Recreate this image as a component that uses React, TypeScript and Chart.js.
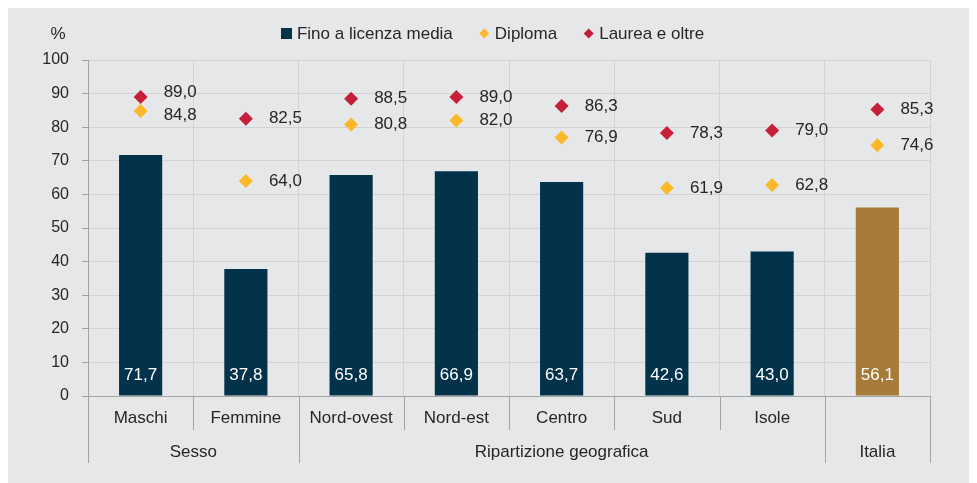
import React, { useEffect, useRef } from 'react';
import { Chart, registerables } from 'chart.js';

Chart.register(...registerables);

const categories = ['Maschi', 'Femmine', 'Nord-ovest', 'Nord-est', 'Centro', 'Sud', 'Isole', 'Italia'];
const groupLabels = ['Sesso', 'Ripartizione geografica', 'Italia'];
const groupSpans = [2, 5, 1];
const seriesNames = ['Fino a licenza media', 'Diploma', 'Laurea e oltre'];
const finoLicenzaMedia = [71.7, 37.8, 65.8, 66.9, 63.7, 42.6, 43.0, 56.1];
const diploma = [84.8, 64.0, 80.8, 82.0, 76.9, 61.9, 62.8, 74.6];
const laurea = [89.0, 82.5, 88.5, 89.0, 86.3, 78.3, 79.0, 85.3];
const yMin = 0;
const yMax = 100;
const yStep = 10;
const yUnit = '%';

const NAVY = '#02334b';
const GOLD = '#a67b37';
const YELLOW = '#fbb829';
const RED = '#c51f3a';
const TEXT = '#262626';
const AXIS = '#a3a3a3';
const GRID = '#d2d3d4';
const BG = '#e6e7e8';
const FONT = '"Liberation Sans", Arial, sans-serif';

const fmt = (v: number) => v.toFixed(1).replace('.', ',');

const customPlugin = {
  id: 'customDecor',
  afterDatasetsDraw(chart: any) {
    const ctx = chart.ctx;
    const y = chart.scales.y;
    ctx.save();
    ctx.font = `17px ${FONT}`;
    ctx.textBaseline = 'middle';
    // bar value labels
    ctx.fillStyle = '#ffffff';
    ctx.textAlign = 'center';
    const barMeta = chart.getDatasetMeta(0);
    barMeta.data.forEach((el: any, i: number) => {
      ctx.fillText(fmt(finoLicenzaMedia[i]), el.x, y.getPixelForValue(0) - 21);
    });
    // point labels
    ctx.fillStyle = TEXT;
    ctx.textAlign = 'left';
    const dMeta = chart.getDatasetMeta(1);
    const lMeta = chart.getDatasetMeta(2);
    categories.forEach((_, i) => {
      const pd = dMeta.data[i];
      const pl = lMeta.data[i];
      let yd = pd.y;
      let yl = pl.y;
      const gap = yd - yl;
      const minGap = 23;
      if (gap < minGap) {
        const s = (minGap - gap) / 2;
        yd += s;
        yl -= s;
      }
      ctx.fillText(fmt(diploma[i]), pd.x + 23, yd);
      ctx.fillText(fmt(laurea[i]), pl.x + 23, yl);
    });
    ctx.restore();
  },
  afterDraw(chart: any) {
    const ctx = chart.ctx;
    const x = chart.scales.x;
    const area = chart.chartArea;
    const n = categories.length;
    ctx.save();
    // boundaries
    const bounds: number[] = [];
    for (let k = 0; k <= n; k++) {
      if (k === 0) bounds.push(area.left);
      else if (k === n) bounds.push(area.right);
      else bounds.push((x.getPixelForValue(k - 1) + x.getPixelForValue(k)) / 2);
    }
    const groupBounds = new Set<number>([0]);
    const singleGroupCats = new Set<number>();
    let acc = 0;
    groupSpans.forEach((s, gi) => {
      if (s === 1 && categories[acc] === groupLabels[gi]) singleGroupCats.add(acc);
      acc += s;
      groupBounds.add(acc);
    });
    ctx.strokeStyle = AXIS;
    ctx.lineWidth = 1;
    const base = area.bottom;
    bounds.forEach((bx, k) => {
      const len = groupBounds.has(k) ? 67 : 34;
      const px = Math.round(bx) + 0.5;
      ctx.beginPath();
      ctx.moveTo(px, base);
      ctx.lineTo(px, base + len);
      ctx.stroke();
    });
    // category labels
    ctx.font = `17px ${FONT}`;
    ctx.fillStyle = TEXT;
    ctx.textAlign = 'center';
    ctx.textBaseline = 'middle';
    categories.forEach((c, i) => {
      if (singleGroupCats.has(i)) return;
      ctx.fillText(c, x.getPixelForValue(i), base + 22);
    });
    // group labels
    let start = 0;
    groupLabels.forEach((g, gi) => {
      const end = start + groupSpans[gi];
      const cx = (bounds[start] + bounds[end]) / 2;
      ctx.fillText(g, cx, base + 56);
      start = end;
    });
    // unit
    ctx.fillText(yUnit, 50, 26);
    // legend
    const markers = [
      { type: 'rect', color: NAVY },
      { type: 'diamond', color: YELLOW },
      { type: 'diamond', color: RED },
    ];
    const box = 11;
    const gapText = 5;
    const spacing = 26;
    const widths = seriesNames.map((s) => ctx.measureText(s).width);
    const total = widths.reduce((a, w) => a + box + gapText + w, 0) + spacing * (seriesNames.length - 1);
    let lx = (chart.width - total) / 2;
    const ly = 25;
    ctx.textAlign = 'left';
    seriesNames.forEach((s, i) => {
      const m = markers[i];
      ctx.fillStyle = m.color;
      if (m.type === 'rect') {
        ctx.fillRect(Math.round(lx), ly - 5, box, box);
      } else {
        const cx = lx + box / 2;
        const r = 5;
        ctx.beginPath();
        ctx.moveTo(cx - r, ly + 0.5);
        ctx.lineTo(cx, ly + 0.5 - r);
        ctx.lineTo(cx + r, ly + 0.5);
        ctx.lineTo(cx, ly + 0.5 + r);
        ctx.closePath();
        ctx.fill();
      }
      ctx.fillStyle = TEXT;
      ctx.fillText(s, lx + box + gapText, ly + 1);
      lx += box + gapText + widths[i] + spacing;
    });
    ctx.restore();
  },
};

export default function App() {
  const canvasRef = useRef<HTMLCanvasElement | null>(null);

  useEffect(() => {
    if (!canvasRef.current) return;
    const chart = new Chart(canvasRef.current, {
      type: 'bar',
      data: {
        labels: categories,
        datasets: [
          {
            type: 'bar',
            label: seriesNames[0],
            data: finoLicenzaMedia,
            backgroundColor: categories.map((c) => (c === 'Italia' ? GOLD : NAVY)),
            barPercentage: 0.41,
            categoryPercentage: 1,
            order: 2,
          } as any,
          {
            type: 'line',
            label: seriesNames[1],
            data: diploma,
            showLine: false,
            pointStyle: 'rectRot',
            pointRadius: 7,
            pointBorderWidth: 0,
            pointBackgroundColor: YELLOW,
            pointBorderColor: YELLOW,
            order: 1,
          } as any,
          {
            type: 'line',
            label: seriesNames[2],
            data: laurea,
            showLine: false,
            pointStyle: 'rectRot',
            pointRadius: 7,
            pointBorderWidth: 0,
            pointBackgroundColor: RED,
            pointBorderColor: RED,
            order: 1,
          } as any,
        ],
      },
      options: {
        animation: false,
        responsive: true,
        maintainAspectRatio: false,
        events: [],
        layout: { padding: { top: 52, right: 47, left: 0, bottom: 0 } },
        plugins: {
          legend: { display: false },
          tooltip: { enabled: false },
        },
        scales: {
          x: {
            offset: true,
            grid: { display: true, color: GRID, offset: true, drawTicks: false },
            border: { display: true, color: AXIS },
            ticks: { display: false },
            afterFit: (scale: any) => {
              scale.height = 87;
            },
          },
          y: {
            min: yMin,
            max: yMax,
            grid: { color: GRID, tickColor: AXIS, tickLength: 6, drawTicks: true },
            border: { display: true, color: AXIS },
            ticks: {
              stepSize: yStep,
              padding: 13,
              color: TEXT,
              font: { family: FONT, size: 16 },
            },
            afterFit: (scale: any) => {
              scale.width = 80;
            },
          },
        },
      },
      plugins: [customPlugin],
    });
    return () => chart.destroy();
  }, []);

  return (
    <div style={{ width: 969, height: 475, background: BG, position: 'relative' }}>
      <canvas ref={canvasRef} />
    </div>
  );
}
